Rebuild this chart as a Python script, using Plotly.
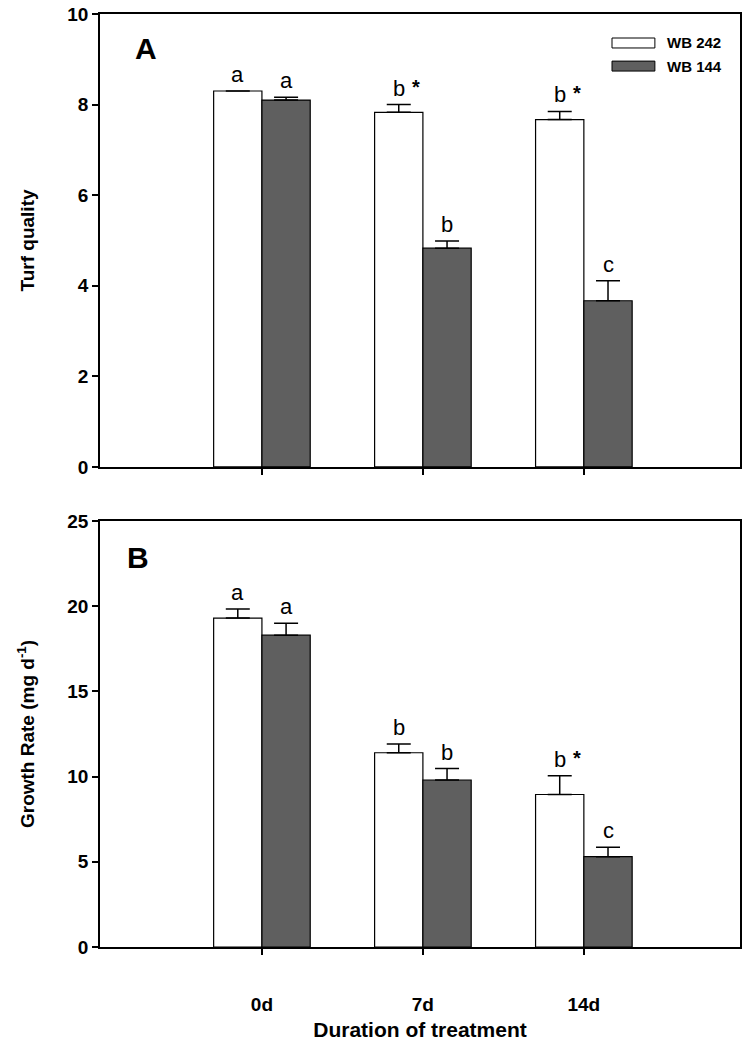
import plotly.graph_objects as go
from plotly.subplots import make_subplots

categories = ["0d", "7d", "14d"]
cat_pos = [0, 1, 2]
series_names = ["WB 242", "WB 144"]

# Panel A: Turf quality
tq_wb242 = [8.30, 7.83, 7.67]
tq_wb242_err = [0.0, 0.17, 0.18]
tq_wb144 = [8.10, 4.83, 3.67]
tq_wb144_err = [0.06, 0.16, 0.44]
tq_letters_242 = ["a", "b", "b"]
tq_star_242 = ["", "*", "*"]
tq_letters_144 = ["a", "b", "c"]

# Panel B: Growth rate
gr_wb242 = [19.3, 11.4, 8.95]
gr_wb242_err = [0.53, 0.51, 1.1]
gr_wb144 = [18.3, 9.8, 5.3]
gr_wb144_err = [0.7, 0.67, 0.55]
gr_letters_242 = ["a", "b", "b"]
gr_star_242 = ["", "", "*"]
gr_letters_144 = ["a", "b", "c"]

colors = ["#ffffff", "#5f5f5f"]
FONT = "Arial, Liberation Sans, sans-serif"

fig = make_subplots(rows=2, cols=1, vertical_spacing=0.0)

panels = [
    (1, [tq_wb242, tq_wb144], [tq_wb242_err, tq_wb144_err],
     [tq_letters_242, tq_letters_144], [tq_star_242, ["", "", ""]]),
    (2, [gr_wb242, gr_wb144], [gr_wb242_err, gr_wb144_err],
     [gr_letters_242, gr_letters_144], [gr_star_242, ["", "", ""]]),
]

for row, vals, errs, letters, stars in panels:
    for i in range(2):
        fig.add_trace(go.Bar(
            x=cat_pos, y=vals[i], name=series_names[i],
            marker=dict(color=colors[i], line=dict(color="#000000", width=1.2)),
            error_y=dict(type="data", symmetric=False, array=errs[i],
                         arrayminus=[0] * 3, color="#000000",
                         thickness=1.5, width=12),
            showlegend=False,
        ), row=row, col=1)
        offs = -0.15 if i == 0 else 0.15
        xref = "x" if row == 1 else "x2"
        yref = "y" if row == 1 else "y2"
        for k in range(3):
            top = vals[i][k] + errs[i][k]
            fig.add_annotation(x=cat_pos[k] + offs, y=top, xref=xref, yref=yref,
                               text=letters[i][k], showarrow=False,
                               yanchor="bottom", yshift=2,
                               font=dict(family=FONT, size=22, color="#000000"))
            if stars[i][k]:
                fig.add_annotation(x=cat_pos[k] + offs, y=top, xref=xref, yref=yref,
                                   text="<b>" + stars[i][k] + "</b>", showarrow=False,
                                   yanchor="bottom", yshift=5, xshift=17,
                                   font=dict(family=FONT, size=20, color="#000000"))

axis_common = dict(showline=True, linecolor="#000000", linewidth=1.5, mirror=True,
                   ticks="outside", ticklen=6, tickwidth=1.5, tickcolor="#000000",
                   showgrid=False, zeroline=False, automargin=False,
                   ticklabeloverflow="allow",
                   tickfont=dict(family=FONT, size=19, color="#000000", weight="bold"))

fig.update_xaxes(**axis_common, range=[-1.006, 2.97], tickvals=cat_pos)
fig.update_xaxes(showticklabels=False, row=1, col=1)
fig.update_xaxes(ticktext=categories, ticklabelstandoff=33,
                 title=dict(text="<b>Duration of treatment</b>", standoff=9,
                            font=dict(family=FONT, size=21, color="#000000")),
                 row=2, col=1)
fig.update_yaxes(**axis_common)
fig.update_yaxes(range=[0, 10], dtick=2, domain=[0.5145, 1.0],
                 title=dict(text="<b>Turf quality</b>", standoff=28,
                            font=dict(family=FONT, size=19, color="#000000")),
                 row=1, col=1)
fig.update_yaxes(range=[0, 25], dtick=5, domain=[0.0, 0.4566],
                 title=dict(text="<b>Growth Rate (mg d<sup>-1</sup>)</b>", standoff=28,
                            font=dict(family=FONT, size=19, color="#000000")),
                 row=2, col=1)

# Panel labels
fig.add_annotation(x=0.051, y=0.964, xref="x domain", yref="y domain", text="<b>A</b>",
                   showarrow=False, font=dict(family=FONT, size=30, color="#000000"))
fig.add_annotation(x=0.039, y=0.957, xref="x2 domain", yref="y2 domain", text="<b>B</b>",
                   showarrow=False, font=dict(family=FONT, size=30, color="#000000"))

# Legend (drawn in panel A)
legend_rows = [(0.947, 0.925), (0.896, 0.874)]
for i, (y1, y0) in enumerate(legend_rows):
    fig.add_shape(type="rect", xref="x domain", yref="y domain",
                  x0=0.80, x1=0.867, y0=y0, y1=y1,
                  fillcolor=colors[i], line=dict(color="#000000", width=1))
    fig.add_annotation(x=0.883, y=(y0 + y1) / 2, xref="x domain", yref="y domain",
                       text="<b>" + series_names[i] + "</b>", showarrow=False,
                       xanchor="left", yanchor="middle",
                       font=dict(family=FONT, size=15, color="#000000"))

fig.update_layout(
    width=753, height=1045,
    margin=dict(l=100, r=13, t=14, b=98, autoexpand=False),
    barmode="group", bargap=0.4, bargroupgap=0.0,
    plot_bgcolor="#ffffff", paper_bgcolor="#ffffff",
    font=dict(family=FONT, color="#000000"),
)

fig.write_html("out.html",
               config={"displayModeBar": False},
               post_script="document.body.style.margin='0';document.body.style.overflow='hidden';")
